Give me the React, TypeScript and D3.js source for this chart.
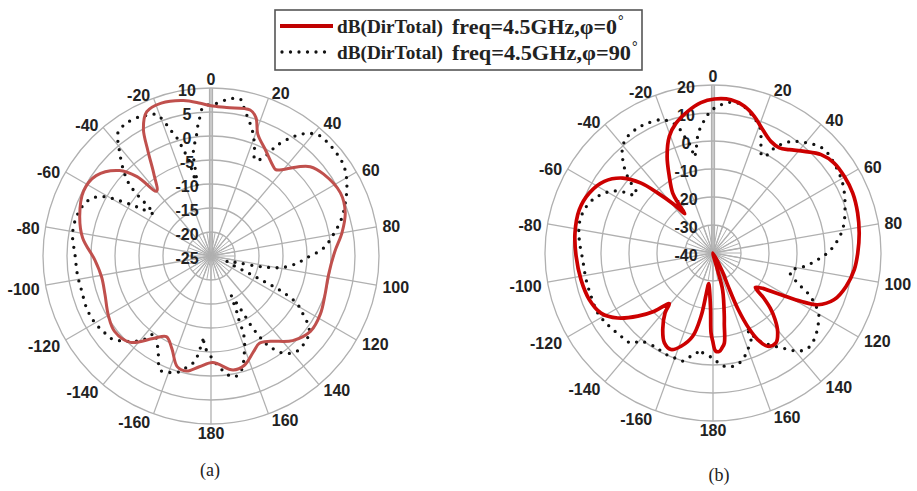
import React from 'react';
import * as d3 from 'd3';

// angle ticks (deg, 0 at top, clockwise)
const angleTicks = [0, 20, 40, 60, 80, 100, 120, 140, 160, 180, -160, -140, -120, -100, -80, -60, -40, -20];

// (a) radial grid, dB
const aRings = [-20, -15, -10, -5, 0, 5, 10];
const aRingLabels = [10, 5, 0, -5, -10, -15, -20, -25];
// (b) radial grid, dB
const bRings = [-30, -20, -10, 0, 10, 20];
const bRingLabels = [20, 10, 0, -10, -20, -30, -40];

// (a) phi = 0
const aPhi0Angle = [-174, -168, -163, -157, -151, -145, -137, -128, -120, -110, -101, -92, -82, -73, -63, -55, -47, -43, -40, -35, -31, -28, -24, -18, -10, -4, 0, 6, 15, 18, 21, 27, 35, 37, 44, 48, 54, 64, 72, 80, 88, 99, 109, 118, 127, 136, 145, 151, 156, 163, 169, 179];
const aPhi0Db = [-1.8, -0.5, -0.9, -4.1, -5.8, -4.0, -0.4, 0.5, -0.3, -1.5, -1.8, -0.8, 2.0, 3.6, 4.8, 4.2, 1.1, -2.4, -7.4, -4.3, 0.5, 5.0, 7.9, 8.5, 7.9, 6.9, 6.3, 6.1, 6.5, 5.3, 2.2, -0.1, -2.3, -2.5, 0.8, 2.8, 4.0, 5.0, 4.4, 2.7, 0.8, -0.2, 0.1, 0.8, 1.0, -0.5, -3.3, -4.2, -3.2, -1.2, -0.8, -2.8];

// (a) phi = 90
const aPhi90Angle = [-177, -174.5, -173, -171, -167, -164, -160, -156, -151, -147, -144, -142, -139, -134, -130, -125, -120, -113, -105, -98, -90, -81, -74, -68, -64, -61, -59, -57, -55.5, -53.5, -52, -51, -50, -48.5, -45.5, -40.5, -37, -32.5, -27, -23.5, -21, -19, -17.5, -15.7, -14.6, -13.1, -12.5, -11, -10.5, -10.2, -9.8, -8, -6.6, -5.5, -4.5, -3, 2, 6, 9.5, 11, 13, 16, 19.3, 22, 24.6, 28, 29.5, 31, 34.6, 38, 41.6, 46, 51, 55.5, 60, 64.6, 69, 74, 80, 86, 91, 95, 99, 101, 102.5, 104, 108, 113, 114.5, 115.5, 116, 117, 119, 122, 125, 128, 133, 137, 141, 144, 146.5, 148, 149, 150, 150.5, 151.5, 153, 155, 156, 157.6, 160, 161.7, 164, 167, 170, 173, 176, 179];
const aPhi90Db = [-5.5, -7.4, -5.0, -2.7, -1.0, 0.2, 0.8, 1.0, -2.3, -4.2, -5.1, -3.2, -1.5, 0.5, 1.9, 2.4, 2.9, 3.1, 2.9, 3.1, 3.3, 4.2, 4.2, 3.6, 2.5, 0.5, -2.5, -5.6, -8.0, -10.2, -8.7, -6.9, -4.5, -2.1, 0.6, 4.5, 7.2, 7.8, 7.6, 7.0, 6.6, 4.3, 2.2, 0.1, -2.2, -4.1, -6.6, -9.9, -8.2, -6.1, -3.3, -1.0, 0.7, 2.8, 4.1, 6.1, 6.8, 7.8, 8.3, 8.1, 6.2, 4.1, 1.7, -0.8, -3.0, -1.9, 0.0, 2.0, 5.2, 7.4, 8.7, 8.9, 8.8, 8.5, 7.6, 6.3, 4.9, 3.3, 0.9, -1.5, -5.0, -7.1, -9.8, -12.5, -15.2, -19, -21.5, -19.8, -16.5, -13.5, -10.5, -7.5, -4.5, -2.5, -0.4, 1.0, 1.6, 1.8, 1.1, -0.1, -2.0, -3.5, -5.5, -8.0, -11, -14, -15.7, -12.5, -11.3, -7.0, -4.5, -3.1, -1.0, 0.4, 0.6, -0.5, -1.9, -3.5];

// (b) phi = 0
const bPhi0Angle = [-178.6, -177.5, -174, -172, -170.6, -169.3, -166.3, -161.1, -156.5, -151.6, -146.7, -141.3, -139.2, -134.8, -130, -124.3, -118.2, -110.7, -101.4, -91.4, -81.8, -72, -64.1, -56.6, -50.3, -45.8, -42.7, -38.7, -35.6, -35, -33.9, -29.7, -25.4, -20.5, -15.9, -10.1, -4.6, 0.5, 6.7, 12.1, 16.8, 21.9, 27.4, 32.3, 36.5, 41.9, 47.7, 53.4, 59.7, 66.8, 74.5, 82.2, 90, 96.7, 104.1, 111, 116.3, 118.8, 121.5, 126.1, 129.1, 131.5, 134, 137, 140.5, 145, 149.6, 152.7, 154.5, 156, 155.5, 153, 158, 165, 165.5, 169.9, 171, 172.8, 174.5, 176.3, 178.5, -179.8];
const bPhi0Db = [-11.4, -20, -27.5, -29, -25, -17, -9.4, -4.8, -2.4, -3.5, -7.3, -12.6, -16.1, -10.5, -4.9, 1.2, 5.4, 7.2, 8.1, 8.9, 9.8, 10.2, 9.1, 6.5, 1.9, -4.2, -10.8, -17.9, -22.7, -19, -14.2, -8.5, -1.8, 4.5, 8.2, 11.4, 13.9, 15.0, 15.1, 13.6, 11.0, 7.5, 4.9, 4.4, 5.9, 8.8, 12.2, 13.9, 14.3, 14.3, 13.6, 12.7, 11.7, 10.8, 9.0, 6.4, 1.7, -4.2, -11.5, -18.8, -20.5, -16, -11.5, -7.5, -3.7, -0.8, -1.4, -5.2, -10, -18, -27, -33, -40, -33.4, -26.2, -17, -14.2, -7.6, -6.0, -4.8, -5.0, -8.6];

// (b) phi = 90
const bPhi90Angle = [-174, -171, -168, -164.3, -159.7, -155.1, -151, -147.8, -140.8, -137.7, -132.2, -124.2, -117.5, -109.6, -101.9, -92.9, -84.3, -77.4, -71.4, -66.1, -62.5, -58.8, -56.2, -54.8, -53.5, -51.3, -49.5, -47.4, -44, -40.3, -36.2, -31.1, -26.7, -21.3, -18.3, -15.6, -13.8, -11.7, -11, -9.3, -7.5, -5.4, -3, -1.5, 1, 4.3, 7.4, 11, 16, 20.7, 22.4, 24.2, 26.9, 29.1, 30.3, 33, 36, 39.5, 43.1, 47.1, 51.2, 56, 61.6, 69.3, 79.8, 88.4, 93.6, 98.3, 101.8, 104, 109.5, 112.9, 116.3, 120, 125.5, 130.4, 135.2, 139.2, 142.2, 145.5, 149, 152.5, 154, 155.5, 156.6, 161.7, 163.4, 167.5, 171.9, 175.9, 179.3];
const bPhi90Db = [-4.2, -4.0, -2.4, 0.1, -0.1, -0.1, -0.5, -0.6, 0.7, 3.5, 4.3, 5.5, 6.4, 6.2, 6.3, 6.6, 8.0, 8.9, 8.5, 7.0, 5.1, 2.6, -0.5, -3.2, -5.4, -4.8, -1.5, 2.2, 6.4, 9.9, 11.6, 12.1, 11.9, 11.1, 9.5, 6.9, 2.9, -1.1, -5.1, -2.6, 2.0, 5.5, 8.3, 10.2, 12.0, 13.5, 14.3, 13.9, 11.0, 7.7, 5.0, 1.8, -1.3, 0.2, 3.4, 6.8, 9.3, 11.2, 13.0, 14.3, 14.1, 13.5, 12.6, 10.4, 7.0, 2.1, -2.5, -7.0, -11.0, -11.7, -8.0, -3.3, 0.4, 3.6, 5.9, 7.5, 8.0, 6.3, 3.5, 0.7, -2.0, -4.7, -7.0, -11.0, -5.8, -2.5, -1.0, 0.7, 1.1, 0.1, -2.0];

const R = 168;
const GRID = '#b0b0b0';
const LABEL_FONT = '"Liberation Sans", Arial, sans-serif';
const SERIF = '"Liberation Serif", "Times New Roman", serif';

const toRad = (a: number) => (a * Math.PI) / 180;

type PolarProps = {
  cx: number;
  cy: number;
  dbMin: number;
  dbMax: number;
  rings: number[];
  ringLabels: number[];
  labelDx: number;
  phi0Angle: number[];
  phi0Db: number[];
  phi90Angle: number[];
  phi90Db: number[];
  redColor: string;
  redWidth: number;
};

const PolarPlot = ({ cx, cy, dbMin, dbMax, rings, ringLabels, labelDx, phi0Angle, phi0Db, phi90Angle, phi90Db, redColor, redWidth }: PolarProps) => {
  const r = d3.scaleLinear().domain([dbMin, dbMax]).range([0, R]).clamp(true);

  const line = d3
    .lineRadial<[number, number]>()
    .angle(d => toRad(d[0]))
    .radius(d => r(d[1]))
    .curve(d3.curveCatmullRomClosed.alpha(0.5));

  const red = line(phi0Angle.map((a, i) => [a, phi0Db[i]] as [number, number])) || '';
  const dots = line(phi90Angle.map((a, i) => [a, phi90Db[i]] as [number, number])) || '';

  const innerR = r(rings[0]);
  const fineSpokes = d3.range(0, 360, 10);

  return (
    <g transform={`translate(${cx},${cy})`}>
      {/* fine spokes near the centre */}
      {fineSpokes.map(a => (
        <line key={'f' + a} x1={0} y1={0} x2={innerR * Math.sin(toRad(a))} y2={-innerR * Math.cos(toRad(a))} stroke={GRID} strokeWidth={1} />
      ))}
      {/* main spokes */}
      {angleTicks.map(a => (
        <line key={'s' + a} x1={0} y1={0} x2={R * Math.sin(toRad(a))} y2={-R * Math.cos(toRad(a))} stroke={GRID} strokeWidth={1.3} />
      ))}
      <line x1={-1.5} y1={0} x2={-1.5} y2={-R} stroke={GRID} strokeWidth={1.2} />
      <line x1={1.5} y1={0} x2={1.5} y2={-R} stroke={GRID} strokeWidth={1.2} />
      {/* rings */}
      {rings.map(v => (
        <circle key={'c' + v} r={r(v)} fill="none" stroke={GRID} strokeWidth={1.3} />
      ))}

      {/* radial labels */}
      {ringLabels.map(v => (
        <text key={'rl' + v} x={labelDx} y={-r(v) + 2} textAnchor="middle" dominantBaseline="central" fontFamily={LABEL_FONT} fontWeight="bold" fontSize={16} fill="#222">
          {v}
        </text>
      ))}

      {/* angle labels */}
      {angleTicks.map(a => {
        const s = Math.sin(toRad(a));
        const c = Math.cos(toRad(a));
        const px = (R + 4) * s;
        const py = -(R + 4) * c;
        let anchor = 'middle';
        let x = px;
        let y = py - c * 5;
        if (s > 0.1) {
          anchor = 'start';
          x = px + 2;
          y = py + 1 - 2 * c;
        } else if (s < -0.1) {
          anchor = 'end';
          x = px - 2;
          y = py + 3 - 2 * c;
        }
        return (
          <text key={'al' + a} x={x} y={y} textAnchor={anchor} dominantBaseline="central" fontFamily={LABEL_FONT} fontWeight="bold" fontSize={16} fill="#222">
            {a}
          </text>
        );
      })}

      {/* series */}
      <path d={dots} fill="none" stroke="#111" strokeWidth={3.3} strokeDasharray="0 8.5" strokeLinecap="round" />
      <path d={red} fill="none" stroke={redColor} strokeWidth={redWidth} strokeLinejoin="round" />
    </g>
  );
};

const Legend = () => (
  <g>
    <rect x={275} y={10} width={367} height={60} fill="#fff" stroke="#555" strokeWidth={1.6} />
    <line x1={280} y1={26} x2={333} y2={26} stroke="#c00000" strokeWidth={4} />
    <text x={337} y={33} fontFamily={SERIF} fontWeight="bold" fontSize={18} fill="#222" textLength={106} lengthAdjust="spacingAndGlyphs">dB(DirTotal)</text>
    <text x={452} y={34} fontFamily={SERIF} fontWeight="bold" fontSize={21} fill="#222" textLength={165} lengthAdjust="spacingAndGlyphs">freq=4.5GHz,φ=0</text>
    <text x={618} y={25} fontFamily={SERIF} fontWeight="bold" fontSize={14} fill="#222">°</text>
    <line x1={282} y1={52} x2={330} y2={52} stroke="#111" strokeWidth={3.3} strokeDasharray="0 8.5" strokeLinecap="round" />
    <text x={337} y={59} fontFamily={SERIF} fontWeight="bold" fontSize={18} fill="#222" textLength={106} lengthAdjust="spacingAndGlyphs">dB(DirTotal)</text>
    <text x={452} y={60} fontFamily={SERIF} fontWeight="bold" fontSize={21} fill="#222" textLength={179} lengthAdjust="spacingAndGlyphs">freq=4.5GHz,φ=90</text>
    <text x={632} y={51} fontFamily={SERIF} fontWeight="bold" fontSize={14} fill="#222">°</text>
  </g>
);

export default function App() {
  return (
    <svg width={917} height={491} style={{ position: 'absolute', left: 0, top: 0, background: '#fff' }}>
      <rect width={917} height={491} fill="#fff" />
      <PolarPlot
        cx={211}
        cy={256}
        dbMin={-25}
        dbMax={10}
        rings={aRings}
        ringLabels={aRingLabels}
        labelDx={-24}
        phi0Angle={aPhi0Angle}
        phi0Db={aPhi0Db}
        phi90Angle={aPhi90Angle}
        phi90Db={aPhi90Db}
        redColor="#c0504d"
        redWidth={3}
      />
      <PolarPlot
        cx={713}
        cy={253}
        dbMin={-40}
        dbMax={20}
        rings={bRings}
        ringLabels={bRingLabels}
        labelDx={-27}
        phi0Angle={bPhi0Angle}
        phi0Db={bPhi0Db}
        phi90Angle={bPhi90Angle}
        phi90Db={bPhi90Db}
        redColor="#cc0000"
        redWidth={3.7}
      />
      <Legend />
      <text x={210} y={476} textAnchor="middle" fontFamily={SERIF} fontSize={18} fill="#222">(a)</text>
      <text x={719} y={481} textAnchor="middle" fontFamily={SERIF} fontSize={18} fill="#222">(b)</text>
    </svg>
  );
}
